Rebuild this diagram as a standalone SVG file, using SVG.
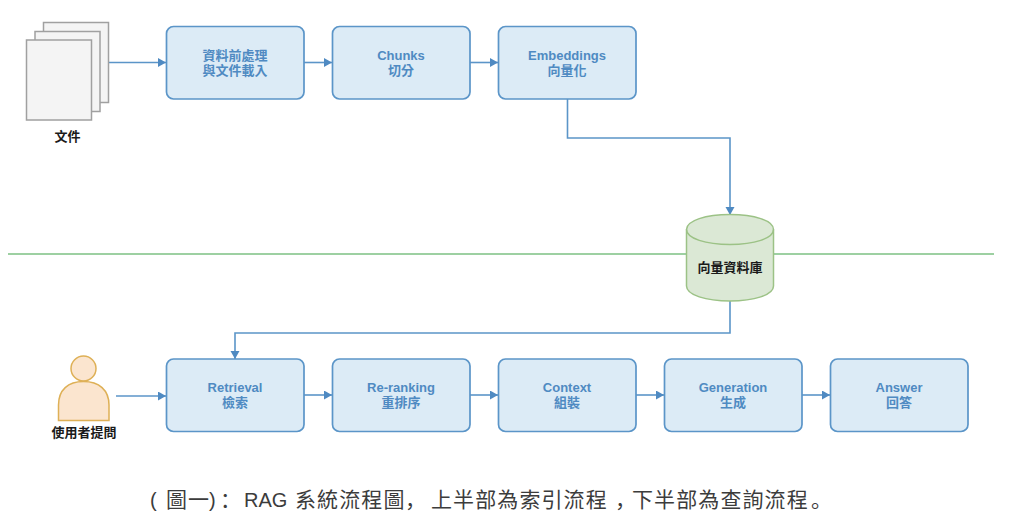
<svg xmlns="http://www.w3.org/2000/svg" width="1024" height="527" viewBox="0 0 1024 527">
<style>
.box{fill:#dcebf6;stroke:#5b95c8;stroke-width:1.7}
.t{font-family:"Liberation Sans","Noto Sans CJK TC",sans-serif;font-size:13px;font-weight:bold;fill:#4f8ac2;text-anchor:middle}
.k{font-family:"Liberation Sans","Noto Sans CJK TC",sans-serif;font-size:13px;font-weight:bold;fill:#1a1a1a;text-anchor:middle}
.c{fill:none;stroke:#5b95c8;stroke-width:1.6}
.doc{fill:#f4f4f4;stroke:#a0a0a0;stroke-width:1.5}
.cap{font-family:"Liberation Sans","Noto Sans CJK TC",sans-serif;font-size:20px;fill:#3c3c3c}
.z{font-family:"Noto Sans CJK TC",sans-serif;font-size:21px;letter-spacing:1.1px;fill:#3c3c3c}
.p{font-family:"Noto Sans CJK SC",sans-serif;font-size:21px;fill:#3c3c3c}
</style>
<defs><marker id="a" markerUnits="userSpaceOnUse" markerWidth="10" markerHeight="10" refX="8" refY="4.500" orient="auto"><path d="M0 0L8 4.500L0 9Z" fill="#4f8ac2"/></marker></defs>
<rect width="1024" height="527" fill="#fff"/>
<g id="divider"><path d="M8 254H994" stroke="#7cc183" stroke-width="1.4" fill="none"/></g>
<g id="connectors">
<path class="c" marker-end="url(#a)" d="M109 62.500H166"/>
<path class="c" marker-end="url(#a)" d="M304 62.500H332"/>
<path class="c" marker-end="url(#a)" d="M470 62.500H498"/>
<path class="c" marker-end="url(#a)" d="M567.500 99V138H730V215"/>
<path class="c" marker-end="url(#a)" d="M730 301V333H235V359"/>
<path class="c" marker-end="url(#a)" d="M116 396H166"/>
<path class="c" marker-end="url(#a)" d="M304 395H332"/>
<path class="c" marker-end="url(#a)" d="M470 395H498"/>
<path class="c" marker-end="url(#a)" d="M636 395H664"/>
<path class="c" marker-end="url(#a)" d="M802 395H830"/>
</g>
<g id="docs">
<rect class="doc" x="43.500" y="22.500" width="65" height="80"/>
<rect class="doc" x="35" y="31.500" width="65" height="80"/>
<rect class="doc" x="26.500" y="40" width="65" height="80"/>
<text class="k" x="67.500" y="140.500">文件</text>
</g>
<g id="n1"><rect class="box" x="166.500" y="26.500" width="137.500" height="72.500" rx="7"/><text class="t" x="235" y="59.500">資料前處理</text><text class="t" x="235" y="75">與文件載入</text></g>
<g id="n2"><rect class="box" x="332.500" y="26.500" width="137.500" height="72.500" rx="7"/><text class="t" x="401" y="59.500">Chunks</text><text class="t" x="401" y="75">切分</text></g>
<g id="n3"><rect class="box" x="498.500" y="26.500" width="137.500" height="72.500" rx="7"/><text class="t" x="567" y="59.500">Embeddings</text><text class="t" x="567" y="75">向量化</text></g>
<g id="db">
<path d="M686.500 229.500C686.500 220.500 706 214.500 730 214.500C754 214.500 773.500 220.500 773.500 229.500V286C773.500 295 754 301 730 301C706 301 686.500 295 686.500 286Z" fill="#dbe8d5" stroke="#9cc286" stroke-width="1.500"/>
<path d="M686.500 229.500C686.500 238.500 706 244.500 730 244.500C754 244.500 773.500 238.500 773.500 229.500" fill="none" stroke="#9cc286" stroke-width="1.500"/>
<text class="k" x="730" y="271.500">向量資料庫</text>
</g>
<g id="user">
<circle cx="83.500" cy="368.500" r="12.500" fill="#fbe5cf" stroke="#deb056" stroke-width="1.500"/>
<path d="M58.500 420.500V405C58.500 390 68 381.500 83.500 381.500C99 381.500 109 390 109 405V420.500Z" fill="#fbe5cf" stroke="#deb056" stroke-width="1.500"/>
<text class="k" x="84" y="436.500">使用者提問</text>
</g>
<g id="n4"><rect class="box" x="166.500" y="359" width="137.500" height="72.500" rx="7"/><text class="t" x="235" y="392">Retrieval</text><text class="t" x="235" y="407">檢索</text></g>
<g id="n5"><rect class="box" x="332.500" y="359" width="137.500" height="72.500" rx="7"/><text class="t" x="401" y="392">Re-ranking</text><text class="t" x="401" y="407">重排序</text></g>
<g id="n6"><rect class="box" x="498.500" y="359" width="137.500" height="72.500" rx="7"/><text class="t" x="567" y="392">Context</text><text class="t" x="567" y="407">組裝</text></g>
<g id="n7"><rect class="box" x="664.500" y="359" width="137.500" height="72.500" rx="7"/><text class="t" x="733" y="392">Generation</text><text class="t" x="733" y="407">生成</text></g>
<g id="n8"><rect class="box" x="830.500" y="359" width="137.500" height="72.500" rx="7"/><text class="t" x="899" y="392">Answer</text><text class="t" x="899" y="407">回答</text></g>
<g id="caption">
<text class="cap" x="150" y="507">(</text><text class="z" x="166" y="507">圖一</text><text class="cap" x="209" y="507">)</text><text class="p" x="220" y="507">：</text>
<text class="cap" x="244" y="507">RAG</text>
<text class="z" x="295" y="507">系統流程圖</text><text class="p" x="405" y="507">，</text>
<text class="z" x="431" y="507">上半部為索引流程</text><text class="p" x="615" y="507">，</text>
<text class="z" x="632" y="507">下半部為查詢流程</text><text class="p" x="811" y="507">。</text>
</g>
</svg>
